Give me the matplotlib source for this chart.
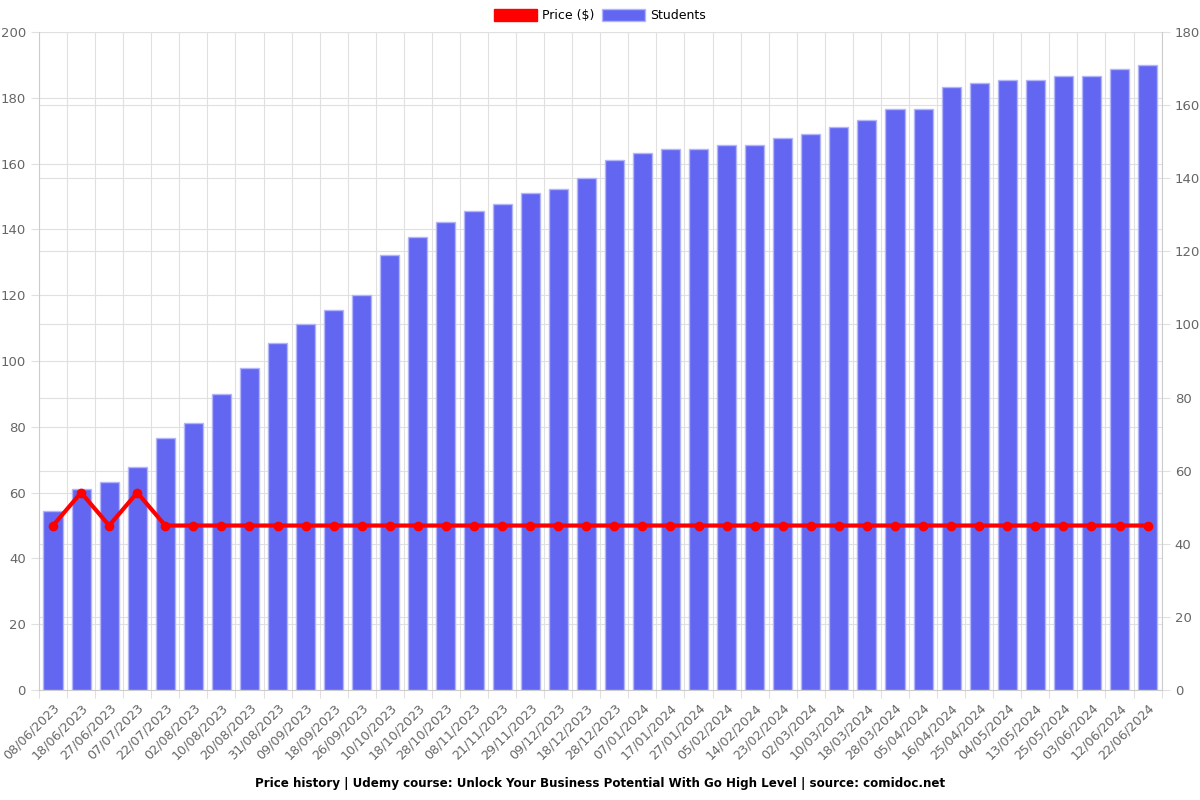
import matplotlib
matplotlib.use("Agg")
import matplotlib.pyplot as plt
from matplotlib.patches import Patch
import numpy as np

dates = ["08/06/2023","18/06/2023","27/06/2023","07/07/2023","22/07/2023","02/08/2023",
         "10/08/2023","20/08/2023","31/08/2023","09/09/2023","18/09/2023","26/09/2023",
         "10/10/2023","18/10/2023","28/10/2023","08/11/2023","21/11/2023","29/11/2023",
         "09/12/2023","18/12/2023","28/12/2023","07/01/2024","17/01/2024","27/01/2024",
         "05/02/2024","14/02/2024","23/02/2024","02/03/2024","10/03/2024","18/03/2024",
         "28/03/2024","05/04/2024","16/04/2024","25/04/2024","04/05/2024","13/05/2024",
         "25/05/2024","03/06/2024","12/06/2024","22/06/2024"]
students = [49,55,57,61,69,73,81,88,95,100,104,108,119,124,128,131,133,136,137,140,
            145,147,148,148,149,149,151,152,154,156,159,159,165,166,167,167,168,168,170,171]
price = [49.99,59.99,49.99,59.99] + [49.99]*36

fig = plt.figure(figsize=(12, 8), dpi=100)
ax = fig.add_axes([0.0325, 0.1375, 0.9355, 0.8225])
ax2 = ax.twinx()

x = np.arange(len(dates))
grid_c = "#e0e0e0"
ax2.bar(x, students, width=0.68, color="#6366f1", edgecolor="#b3b5fb", linewidth=1, zorder=2)
ax2.set_ylim(0, 180)
ax2.set_yticks(np.arange(0, 181, 20))
ax.set_ylim(0, 200)
ax.set_yticks(np.arange(0, 201, 20))
ax.set_xlim(-0.5, len(dates) - 0.5)

ax.set_zorder(ax2.get_zorder() + 1)
ax.patch.set_visible(False)
ax.plot(x, price, color="#ff0000", linewidth=3, marker="o", markersize=6, zorder=5, clip_on=False)

# grids
for b in np.arange(-0.5, len(dates), 1):
    ax2.axvline(b, color=grid_c, linewidth=0.8, zorder=0)
for t in np.arange(20, 181, 20):
    ax2.axhline(t, color=grid_c, linewidth=0.8, zorder=0)
for t in np.arange(20, 201, 20):
    ax2.axhline(t * 180 / 200, color=grid_c, linewidth=0.8, zorder=0)

ax.set_xticks(np.arange(-0.5, len(dates), 1), minor=False)
ax.set_xticklabels([])
ax.set_xticks(x, minor=True)
ax.set_xticklabels(dates, minor=True, rotation=45, ha="right", rotation_mode="anchor",
                   fontsize=9.2, color="#666666")
ax.tick_params(axis="x", which="minor", length=0, pad=8)
ax.tick_params(axis="x", which="major", length=6, color=grid_c)
ax.tick_params(axis="y", labelsize=9.5, labelcolor="#666666", color=grid_c, length=6)
ax2.tick_params(axis="y", labelsize=9.5, labelcolor="#666666", color=grid_c, length=6)

for a in (ax, ax2):
    for s in a.spines.values():
        s.set_visible(False)
ax.spines["left"].set_visible(True)
ax.spines["left"].set_color("#cccccc")
ax.spines["bottom"].set_visible(True)
ax.spines["bottom"].set_color("#cccccc")
ax2.spines["right"].set_visible(True)
ax2.spines["right"].set_color("#cccccc")

handles = [Patch(facecolor="#ff0000", edgecolor="#ff0000"),
           Patch(facecolor="#6366f1", edgecolor="#b3b5fb")]
fig.legend(handles, ["Price ($)", "Students"], loc="center", bbox_to_anchor=(0.5, 0.981),
           ncol=2, frameon=False, fontsize=9, handlelength=3.4, handleheight=1.1,
           columnspacing=0.6, handletextpad=0.45, borderpad=0)

fig.text(0.5, 0.021, "Price history | Udemy course: Unlock Your Business Potential With Go High Level | source: comidoc.net",
         ha="center", va="center", fontsize=8.6, fontweight="bold", color="#000000")

fig.savefig("out.png", dpi=100)
